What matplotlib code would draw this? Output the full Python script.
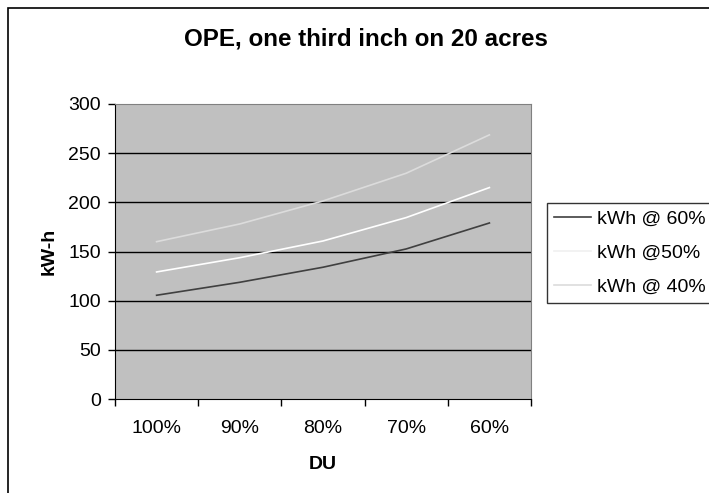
import matplotlib
matplotlib.use("Agg")
import matplotlib.pyplot as plt
from matplotlib.patches import Rectangle
from matplotlib.ticker import FixedLocator, NullFormatter

categories = ["100%", "90%", "80%", "70%", "60%"]
kwh_60 = [105.5, 118.7, 134, 152.6, 179]
kwh_50 = [129.2, 143.7, 160.7, 184.5, 215]
kwh_40 = [160, 178, 201.4, 229.6, 268.6]
series_labels = ["kWh @ 60%", "kWh @50%", "kWh @ 40%"]
y_ticks = [0, 50, 100, 150, 200, 250, 300]

plt.rcParams['font.family'] = ['Liberation Sans', 'DejaVu Sans']

fig = plt.figure(figsize=(7.09, 4.93), dpi=100)
ax = fig.add_axes([115/709, 1-399/493, (531-115)/709, (399-104)/493])
ax.set_facecolor('#C0C0C0')

x = list(range(len(categories)))
ax.plot(x, kwh_60, color='#404040', lw=1.2, label=series_labels[0])
ax.plot(x, kwh_50, color='#FFFFFF', lw=1.2, label=series_labels[1])
ax.plot(x, kwh_40, color='#DCDCDC', lw=1.2, label=series_labels[2])

ax.set_xlim(-0.5, len(categories) - 0.5)
ax.set_ylim(0, 300)
ax.set_yticks(y_ticks)
ax.set_yticklabels([str(v) for v in y_ticks], fontsize=14)
for v in y_ticks[1:-1]:
    ax.axhline(v, color='black', lw=1, zorder=1)

ax.xaxis.set_major_locator(FixedLocator([i - 0.5 for i in range(len(categories) + 1)]))
ax.xaxis.set_major_formatter(NullFormatter())
ax.xaxis.set_minor_locator(FixedLocator(x))
ax.set_xticklabels(categories, minor=True, fontsize=14)
ax.tick_params(axis='x', which='minor', length=0, pad=15)
ax.tick_params(axis='both', which='major', direction='out', length=5, width=1, color='black')
ax.tick_params(axis='y', pad=5)

ax.spines['left'].set_color('black')
ax.spines['bottom'].set_color('black')
ax.spines['top'].set_color('#808080')
ax.spines['right'].set_color('#808080')

ax.set_xlabel('DU', fontsize=14, fontweight='bold', labelpad=14)
ax.set_ylabel('kW-h', fontsize=14, fontweight='bold', labelpad=8)

fig.text(366/709, 1-39/493, 'OPE, one third inch on 20 acres',
         fontsize=17.4, fontweight='bold', ha='center', va='center')

leg = fig.legend(loc='upper left', bbox_to_anchor=(547/709, 1-203/493),
                 fontsize=14, frameon=True, fancybox=False, handlelength=1.9,
                 handletextpad=0.3, labelspacing=0.85, borderpad=0.35, borderaxespad=0)
leg.get_frame().set_edgecolor('black')
leg.get_frame().set_linewidth(1)
leg.get_lines()[1].set_color('#F0F0F0')

fig.patches.append(Rectangle((8/709, -0.02), 1.0, 1 - 8/493 + 0.02, transform=fig.transFigure,
                             fill=False, edgecolor='black', lw=1.2))

fig.savefig('out.png', dpi=100)
